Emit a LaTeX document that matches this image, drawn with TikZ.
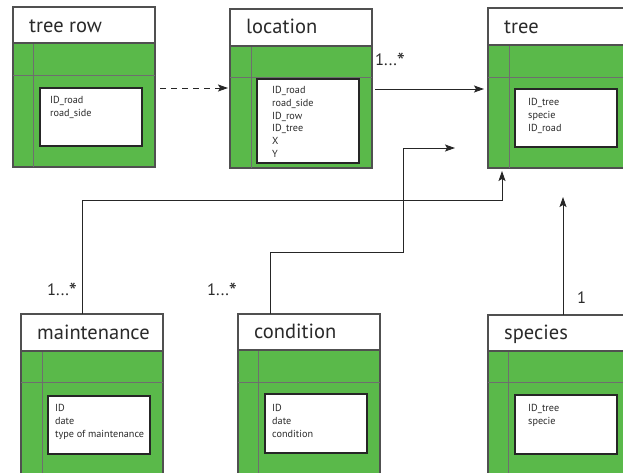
\documentclass[tikz,border=0pt]{standalone}
\usepackage{fontspec}
\setmainfont{PT Sans}
\usetikzlibrary{arrows.meta}
\definecolor{boxgreen}{HTML}{5AB94A}
\definecolor{framegray}{HTML}{505050}
\definecolor{divgray}{HTML}{6E6E6E}
\definecolor{txt}{HTML}{2A2A2A}
\newcommand{\manystar}{1...\raisebox{-4pt}{\fontsize{23}{23}\selectfont *}}
\tikzset{
  body/.style={fill=boxgreen, draw=framegray, line width=1.1pt},
  head/.style={fill=white, draw=framegray, line width=1.1pt},
  divider/.style={draw=divgray, line width=0.9pt},
  innerbox/.style={fill=white, draw=black!85, line width=1.5pt},
  title/.style={font=\fontsize{20.5}{22}\selectfont, text=txt, anchor=base west, inner sep=0pt},
  attrs/.style={font=\fontsize{10.2}{12.8}\selectfont, text=txt, align=left, anchor=north west, inner sep=0pt},
  conn/.style={line width=0.9pt, draw=black!85},
  tip/.style={-{Stealth[length=10pt,width=7pt,inset=2pt]}},
  mult/.style={font=\fontsize{16.5}{17}\selectfont, text=txt, anchor=base west, inner sep=0pt}
}
\begin{document}
\begin{tikzpicture}[x=1pt,y=-1pt]
\useasboundingbox (0,0) rectangle (623,472);
\clip (0,0) rectangle (623,472);

% ---- tree row
\draw[body] (13,43) rectangle (155,167);
\draw[divider] (33,43) -- (33,167) (13,75) -- (155,75);
\draw[head] (13,7) rectangle (155,43);
\node[title] (trowT) at (29,32) {tree row};
\draw[innerbox] (40,88) rectangle (142,146);
\node[attrs] (trowA) at (50,96) {ID\_road\\road\_side};

% ---- location
\draw[body] (230,46) rectangle (372,168);
\draw[divider] (251,46) -- (251,168) (230,77) -- (372,77);
\draw[head] (230,9) rectangle (372,46);
\node[title] (locT) at (246,33) {location};
\draw[innerbox] (257,79) rectangle (359,163);
\node[attrs] (locA) at (272,86) {ID\_road\\road\_side\\ID\_row\\ID\_tree\\X\\Y};

% ---- tree
\draw[body] (488,45) rectangle (640,168);
\draw[divider] (509,45) -- (509,168) (488,77) -- (640,77);
\draw[head] (488,8) rectangle (640,45);
\node[title] (treeT) at (504,33) {tree};
\draw[innerbox] (515,89) rectangle (617,147);
\node[attrs] (treeA) at (528,98) {ID\_tree\\specie\\ID\_road};

% ---- maintenance
\draw[body] (21,351) rectangle (163,480);
\draw[divider] (42,351) -- (42,480) (21,382) -- (163,382);
\draw[head] (21,314) rectangle (163,351);
\node[title] (mainT) at (37,339) {maintenance};
\draw[innerbox] (48,396) rectangle (150,454);
\node[attrs] (mainA) at (55,404) {ID\\date\\type of maintenance};

% ---- condition
\draw[body] (238,350) rectangle (380,480);
\draw[divider] (258,350) -- (258,480) (238,382) -- (380,382);
\draw[head] (238,314) rectangle (380,350);
\node[title] (condT) at (254,338) {condition};
\draw[innerbox] (265,394) rectangle (367,453);
\node[attrs] (condA) at (272,404) {ID\\date\\condition};

% ---- species
\draw[body] (488,351) rectangle (640,480);
\draw[divider] (508,351) -- (508,480) (488,382) -- (640,382);
\draw[head] (488,315) rectangle (640,351);
\node[title] (specT) at (504,339) {species};
\draw[innerbox] (515,395) rectangle (617,454);
\node[attrs] (specA) at (528,404) {ID\_tree\\specie};

% ---- connector end points
\coordinate (trowE) at (160,88);
\coordinate (locW) at (228,88);
\coordinate (locE) at (375,89);
\coordinate (treeW) at (484,89);
\coordinate (mainN) at (82,314);
\coordinate (mainBend) at (502,200);
\coordinate (treeS) at (502,171);
\coordinate (condN) at (270,314);
\coordinate (condBend) at (403,252);
\coordinate (condEnd) at (455,148);
\coordinate (specN) at (563,315);
\coordinate (specEnd) at (563,197);

% ---- connectors
\draw[conn, dashed, dash pattern=on 6pt off 5pt, tip] (trowE) -- (locW);
\draw[conn, tip] (locE) -- (treeW);
\draw[conn, tip] (mainN) |- (mainBend) -- (treeS);
\draw[conn, tip] (condN) |- (condBend) |- (condEnd);
\draw[conn, tip] (specN) -- (specEnd);

% ---- multiplicities
\node[mult] (m1) at (375,65) {\manystar};
\node[mult] (m2) at (47,295) {\manystar};
\node[mult] (m3) at (207,295) {\manystar};
\node[mult] (m4) at (577,303) {1};
\end{tikzpicture}
\end{document}
